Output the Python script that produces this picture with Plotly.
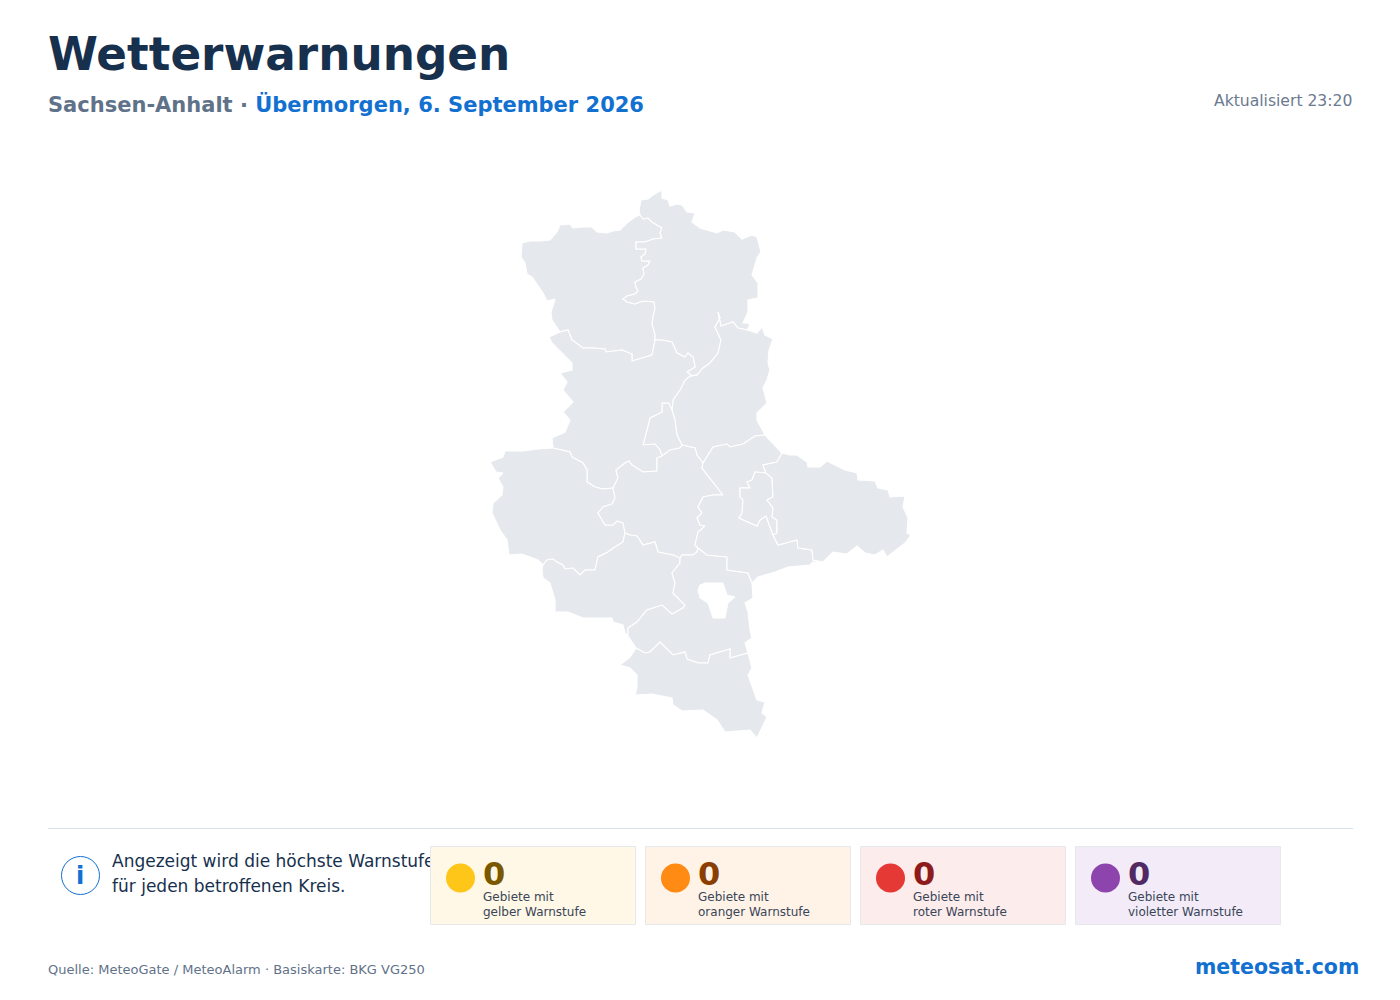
import plotly.graph_objects as go

TITLE = "Wetterwarnungen"
REGION = "Sachsen-Anhalt"
DAY = "Übermorgen, 6. September 2026"
UPDATED = "Aktualisiert 23:20"
NOTE_LINES = ["Angezeigt wird die höchste Warnstufe", "für jeden betroffenen Kreis."]
SOURCE = "Quelle: MeteoGate / MeteoAlarm · Basiskarte: BKG VG250"
BRAND = "meteosat.com"

LEVEL_COUNTS = [0, 0, 0, 0]
LEVEL_LINE1 = ["Gebiete mit"] * 4
LEVEL_LINE2 = ["gelber Warnstufe", "oranger Warnstufe", "roter Warnstufe", "violetter Warnstufe"]

# District borders, in map units
OUT_SAW = [(640,215),(635,217),(627,223),(620,230),(613,231),(607,233),(597,232),(592,227),(583,227),(573,228),(570,224),(560,225),(557,232),(550,240),(540,241),(530,241),(522,243),(521,257),(525,263),(527,274),(532,277),(538,286),(543,293),(547,301),(555,299),(551,312),(552,320),(560,332)]
SAW_STD = [(640,215),(643,219),(648,218),(652,222),(657,225),(662,228),(660,233),(662,238),(653,239),(645,242),(636,242),(636,249),(646,249),(645,254),(641,257),(642,261),(650,261),(648,265),(643,268),(644,274),(641,279),(635,282),(636,287),(638,291),(635,294),(627,296),(623,299),(627,302),(635,304),(643,301),(654,302),(655,308),(653,317),(652,324),(655,334),(655,340)]
SAW_BOR = [(560,332),(568,330),(572,340),(583,348),(593,348),(605,349),(606,352),(613,351),(622,350),(632,354),(632,361),(652,355),(655,340)]
STD_OUT = [(640,215),(639,210),(641,200),(648,199),(653,195),(662,190),(662,198),(668,200),(670,206),(677,204),(682,205),(687,212),(695,213),(692,222),(700,228),(717,233),(723,230),(735,232),(742,239),(752,235),(757,237),(761,252),(757,258),(752,275),(758,283),(758,298),(748,300),(748,312),(743,323),(748,323),(750,325),(747,330)]
STD_JL = [(747,330),(738,328),(733,322),(728,324),(721,326),(718,312),(720,318),(715,327),(721,340),(718,353),(710,363),(703,368),(697,375)]
STD_BOR = [(655,340),(662,340),(672,342),(677,353),(685,357),(688,353),(693,357),(695,367),(687,372),(692,376),(697,375)]
JL_OUT = [(747,330),(757,333),(762,327),(765,335),(773,339),(769,350),(768,363),(770,370),(767,380),(763,388),(767,403),(757,413),(757,420),(765,435)]
JL_AB = [(765,435),(755,436),(743,444),(730,447),(727,444),(713,447),(703,463)]
JL_SLK = [(703,463),(697,455),(695,448),(682,445)]
JL_MD = [(682,445),(677,435),(675,420),(672,410)]
JL_BOR = [(672,410),(673,400),(680,390),(685,380),(690,376),(697,375)]
MD_BOR = [(672,410),(669,403),(662,403),(662,412),(650,418),(647,430),(643,445),(655,444),(660,450),(662,456)]
MD_SLK = [(662,456),(670,450),(680,448),(682,445)]
BOR_OUT = [(560,332),(549,337),(552,343),(562,353),(572,363),(572,370),(560,373),(567,382),(563,390),(573,402),(563,412),(570,420),(565,432),(552,438),(553,448)]
BOR_HZ = [(553,448),(570,452),(572,457),(583,463),(587,470),(587,482),(595,487),(603,489),(613,488)]
BOR_SLK = [(613,488),(618,478),(616,470),(625,463),(629,461),(632,465),(643,472),(657,471),(657,458),(662,456)]
HZ_OUT = [(553,448),(538,449),(523,451),(505,451),(503,457),(490,462),(496,472),(503,473),(498,478),(503,487),(502,495),(493,503),(492,513),(500,530),(507,540),(509,555),(522,554),(538,560),(543,565)]
HZ_MSH = [(543,565),(547,560),(553,559),(557,562),(563,565),(565,569),(573,568),(580,575),(585,570),(595,570),(598,557),(608,552),(615,547),(623,542),(625,533)]
HZ_SLK = [(613,488),(615,498),(612,504),(603,507),(598,513),(605,525),(613,525),(617,521),(623,523),(625,533)]
SLK_MSH = [(625,533),(630,535),(637,536),(643,545),(655,542),(658,552),(673,555),(680,558)]
SLK_SK = [(680,558),(682,555),(693,555),(697,552),(698,548)]
SLK_AB = [(703,463),(702,468),(710,478),(723,495),(713,495),(703,497),(698,507),(702,513),(697,518),(700,525),(705,526),(698,532),(695,545),(698,548)]
AB_OUT1 = [(765,435),(773,443),(782,453)]
AB_WB = [(782,453),(777,462),(763,465),(766,473)]
AB_DE = [(766,473),(755,472),(752,480),(747,482),(750,488),(740,488),(740,497),(743,500),(742,513),(739,518),(757,526),(760,520),(766,516),(772,532),(773,535)]
DE_WB = [(766,473),(772,478),(773,497),(767,500),(773,508),(772,517),(777,520),(777,533),(773,535)]
AB_WB2 = [(773,535),(778,545),(797,540),(798,548),(812,550),(813,560),(823,562)]
WB_OUT = [(782,453),(790,455),(797,455),(807,462),(808,467),(820,467),(827,461),(845,470),(857,473),(858,480),(875,481),(878,488),(888,490),(890,497),(905,496),(903,507),(908,518),(907,533),(911,535),(905,543),(887,557),(883,550),(875,555),(865,553),(857,546),(847,554),(833,552),(823,562)]
AB_OUT2 = [(823,562),(813,562),(810,565),(788,567),(775,572),(758,577),(752,583)]
AB_SK = [(698,548),(707,555),(727,557),(727,570),(748,573),(752,583)]
SK_OUT = [(752,583),(753,598),(745,603),(748,612),(750,630),(752,638),(745,643),(748,653)]
SK_OUT2 = [(628,636),(636,648)]
SK_BLK = [(636,648),(645,653),(650,652),(660,642),(673,655),(685,652),(687,659),(698,663),(708,663),(710,655),(730,649),(730,658),(748,653)]
BLK_OUT = [(636,648),(630,657),(620,665),(630,668),(637,675),(637,687),(635,695),(652,694),(672,698),(673,705),(682,711),(703,710),(717,720),(725,732),(750,730),(757,738),(762,727),(767,717),(762,713),(765,702),(757,700),(753,690),(748,675),(752,668),(748,653)]
MSH_SK = [(680,558),(680,563),(672,573),(675,583),(673,593),(685,605),(683,608),(672,614),(662,605),(647,610),(637,622),(628,628),(628,636)]
MSH_OUT = [(543,565),(542,570),(543,578),(550,583),(555,600),(555,612),(568,612),(583,618),(612,618),(613,622),(623,625),(625,633),(628,636)]
HALLE = [(700,585),(705,583),(723,583),(727,595),(735,597),(728,603),(725,618),(713,618),(708,603),(700,598),(698,590),(700,585)]


def rev(seg):
    return seg[::-1]


DISTRICTS = [
    ("Altmarkkreis Salzwedel", [OUT_SAW, SAW_BOR, rev(SAW_STD)]),
    ("Stendal", [SAW_STD, STD_BOR, rev(STD_JL), rev(STD_OUT)]),
    ("Jerichower Land", [JL_OUT, JL_AB, JL_SLK, JL_MD, JL_BOR, rev(STD_JL)]),
    ("Magdeburg", [MD_BOR, MD_SLK, JL_MD]),
    ("Börde", [BOR_OUT, BOR_HZ, BOR_SLK, rev(MD_BOR), JL_BOR, rev(STD_BOR), rev(SAW_BOR)]),
    ("Harz", [HZ_OUT, HZ_MSH, rev(HZ_SLK), rev(BOR_HZ)]),
    ("Salzlandkreis", [BOR_SLK, MD_SLK, rev(JL_SLK), SLK_AB, rev(SLK_SK), rev(SLK_MSH), rev(HZ_SLK)]),
    ("Mansfeld-Südharz", [HZ_MSH, SLK_MSH, MSH_SK, rev(MSH_OUT)]),
    ("Saalekreis", [rev(MSH_SK), SLK_SK, AB_SK, SK_OUT, rev(SK_BLK), rev(SK_OUT2)]),
    ("Burgenlandkreis", [SK_BLK, rev(BLK_OUT)]),
    ("Anhalt-Bitterfeld", [rev(JL_AB), AB_OUT1, AB_WB, AB_DE, AB_WB2, AB_OUT2, rev(AB_SK), rev(SLK_AB)]),
    ("Dessau-Roßlau", [AB_DE, rev(DE_WB)]),
    ("Wittenberg", [WB_OUT, rev(AB_WB2), rev(DE_WB), rev(AB_WB)]),
]

FONT = "DejaVu Sans"
NAVY = "#17304d"
SLATE = "#5f7289"
BLUE = "#1270d0"
LAND = "#e5e8ec"
CARD_FILL = ["#fff8e6", "#fff3e8", "#fdecec", "#f3ecf8"]
DOT = ["#ffc61a", "#ff8a14", "#e53935", "#8e44ad"]
NUM = ["#7a5800", "#8a3f00", "#8e1b1b", "#512a63"]
CARD_X = [430, 645, 860, 1075]

fig = go.Figure()

for name, parts in DISTRICTS:
    pts = [p for seg in parts for p in seg]
    fig.add_trace(go.Scatter(
        x=[p[0] for p in pts], y=[p[1] for p in pts], mode="lines", fill="toself",
        fillcolor=LAND, line=dict(color="#ffffff", width=1.1), name=name,
        hoverinfo="name", showlegend=False))

fig.add_trace(go.Scatter(
    x=[p[0] for p in HALLE], y=[p[1] for p in HALLE], mode="lines", fill="toself",
    fillcolor="#ffffff", line=dict(color="#ffffff", width=1), name="Halle (Saale)",
    hoverinfo="name", showlegend=False))

# Note text is a trace so the cards (drawn above) cover its end, as in the reference
fig.add_trace(go.Scatter(
    x=[112, 112], y=[862.5, 887.5], mode="text", text=NOTE_LINES, textposition="middle right",
    textfont=dict(family=FONT, size=17, color=NAVY), hoverinfo="skip", showlegend=False))

shapes = [
    dict(type="line", x0=48, x1=1353, y0=828.5, y1=828.5, line=dict(color="#d8e2ea", width=1)),
    dict(type="circle", x0=61.5, x1=99.5, y0=856.5, y1=894.5, line=dict(color=BLUE, width=1), fillcolor="#ffffff"),
]
annotations = []
PAD = {"left": -2, "right": 2, "center": 0}


def text(x, y, s, size, color, anchor="left", bold=False):
    annotations.append(dict(
        x=x + PAD[anchor], y=y, text=f"<b>{s}</b>" if bold else s, showarrow=False, xanchor=anchor,
        yanchor="middle", font=dict(family=FONT, size=size, color=color), align=anchor))


for i, cx in enumerate(CARD_X):
    shapes.append(dict(type="rect", x0=cx + 0.5, x1=cx + 205.5, y0=846.5, y1=924.5, layer="above",
                       fillcolor=CARD_FILL[i], line=dict(color="#e5e8ec", width=1)))
    shapes.append(dict(type="circle", x0=cx + 16, x1=cx + 45, y0=863.5, y1=892.5, layer="above",
                       fillcolor=DOT[i], line=dict(width=0)))
    text(cx + 53, 874, str(LEVEL_COUNTS[i]), 32, NUM[i], bold=True)
    text(cx + 53, 897, LEVEL_LINE1[i], 12, "#3a4558")
    text(cx + 53, 912, LEVEL_LINE2[i], 12, "#3a4558")

text(48, 54, TITLE, 45.3, NAVY, bold=True)
annotations.append(dict(
    x=46, y=104.5, showarrow=False, xanchor="left", yanchor="middle",
    text=f"<b>{REGION} · <span style='color:{BLUE}'>{DAY}</span></b>",
    font=dict(family=FONT, size=21, color=SLATE)))
text(1352, 100.5, UPDATED, 15.6, "#6b7a90", anchor="right")
text(79.5, 876, "i", 24, BLUE, anchor="center", bold=True)
text(48, 969, SOURCE, 13, SLATE)
text(1358.5, 967, BRAND, 20.5, BLUE, anchor="right", bold=True)

fig.update_layout(
    width=1400, height=1000, autosize=False, margin=dict(l=0, r=0, t=0, b=0),
    paper_bgcolor="#ffffff", plot_bgcolor="#ffffff", showlegend=False,
    xaxis=dict(range=[0, 1400], visible=False, fixedrange=True),
    yaxis=dict(range=[1000, 0], visible=False, fixedrange=True),
    shapes=shapes, annotations=annotations)

fig.write_html("out.html", config=dict(displayModeBar=False),
               post_script="document.body.style.margin='0';")
